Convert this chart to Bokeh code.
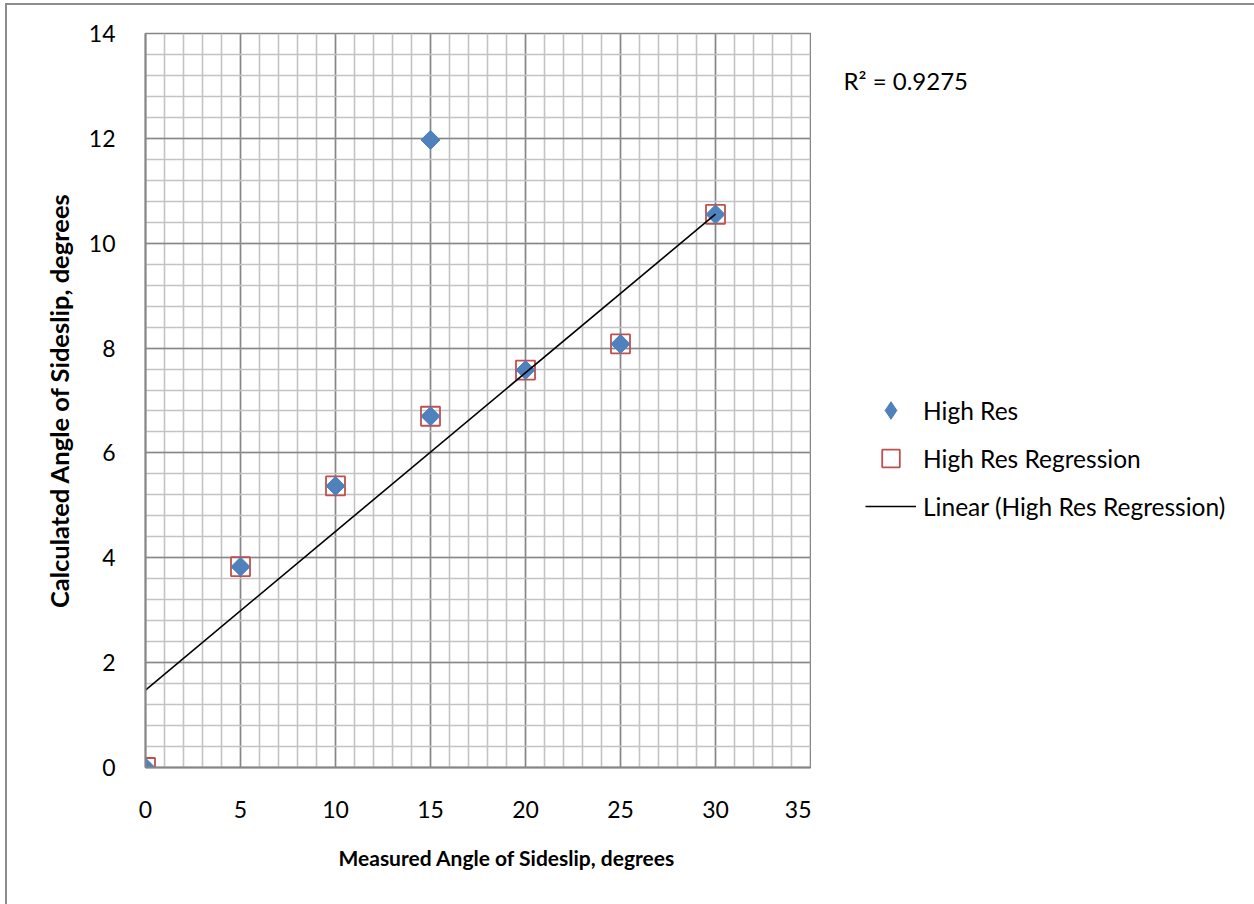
import numpy as np
from bokeh.plotting import figure
from bokeh.layouts import row
from bokeh.models import SingleIntervalTicker, Range1d, Label, Legend, LegendItem, Title
from bokeh.embed import file_html
from bokeh.resources import INLINE

# Data
high_res_x = [0, 5, 10, 15, 15, 20, 25, 30]
high_res_y = [0.0, 3.83, 5.37, 6.70, 11.97, 7.58, 8.08, 10.55]
reg_x = [0, 5, 10, 15, 20, 25, 30]
reg_y = [0.0, 3.83, 5.37, 6.70, 7.58, 8.08, 10.55]
x_label = "Measured Angle of Sideslip, degrees"
y_label = "Calculated Angle of Sideslip, degrees"
legend_labels = ["High Res", "High Res Regression", "Linear (High Res Regression)"]
r2_text = "R\u00b2 = 0.9275"

slope, intercept = np.polyfit(reg_x, reg_y, 1)
fit_x = [min(reg_x), max(reg_x)]
fit_y = [intercept + slope * v for v in fit_x]

FONT = "Lato"
OFF_X, OFF_Y = 7, 5          # chart-area border offset (margin + border)
TOTAL_W = 1254 - OFF_X
H = 904 - OFF_Y
MAIN_W = 811 - OFF_X
FRAME_BOTTOM = 767 - OFF_Y   # frame bottom inside the figure

BLUE = "#4f81bd"
RED = "#c0504d"

p = figure(width=MAIN_W, height=H, output_backend="svg", toolbar_location=None,
           x_range=Range1d(0, 35), y_range=Range1d(0, 14),
           min_border_left=145 - OFF_X, min_border_right=1,
           min_border_top=33 - OFF_Y, min_border_bottom=H - FRAME_BOTTOM)
p.background_fill_color = "white"
p.border_fill_color = "white"
p.outline_line_color = "#868686"
p.outline_line_width = 1.5

p.xaxis.ticker = SingleIntervalTicker(interval=5, num_minor_ticks=5)
p.yaxis.ticker = SingleIntervalTicker(interval=2, num_minor_ticks=5)

for ax in (p.xaxis, p.yaxis):
    ax.axis_line_color = "#868686"
    ax.axis_line_width = 2
    ax.major_tick_line_color = None
    ax.minor_tick_line_color = None
    ax.major_label_text_font = FONT
    ax.major_label_text_font_size = "23px"
    ax.major_label_text_color = "black"
    ax.axis_label_text_font = FONT
    ax.axis_label_text_font_style = "bold"
    ax.axis_label_text_color = "black"

p.yaxis.axis_label = y_label
p.yaxis.axis_label_text_font_size = "25.5px"
p.xaxis.major_label_standoff = 27
p.yaxis.major_label_standoff = 24
p.yaxis.axis_label_standoff = 12

p.add_layout(Title(text=x_label, align="left", offset=193, standoff=44,
                   text_font=FONT, text_font_size="21px", text_font_style="bold",
                   text_color="black"), "below")

for g in (p.xgrid, p.ygrid):
    g.grid_line_color = "#878787"
    g.grid_line_width = 1.5
    g.minor_grid_line_color = "#c3c3c3"
    g.minor_grid_line_width = 1.6

p.scatter(reg_x, reg_y, marker="square", size=19, fill_color=None,
          line_color=RED, line_width=1.8)
p.scatter(high_res_x, high_res_y, marker="square", size=13.5, angle=np.pi / 4,
          fill_color=BLUE, line_color=BLUE, line_width=1)
p.line(fit_x, fit_y, line_color="black", line_width=1.6)

# Side panel holding the R² note and the legend (outside the plot frame).
# In a row its frame is aligned with the main plot's frame.
SIDE_W = TOTAL_W - MAIN_W
p2 = figure(width=SIDE_W, height=H, output_backend="svg", toolbar_location=None,
            x_range=Range1d(1000, 1000 + SIDE_W), y_range=Range1d(1000, 1000 + H),
            min_border_left=0, min_border_right=0, min_border_top=0, min_border_bottom=0)
p2.axis.visible = False
p2.grid.visible = False
p2.outline_line_color = None
p2.background_fill_color = "white"
p2.border_fill_color = "white"

# legend proxies (same series, lying outside this panel's ranges, so not drawn)
l_dia = p2.scatter(high_res_x, high_res_y, marker="diamond",
                   fill_color=BLUE, line_color=BLUE, line_width=1)
l_sq = p2.scatter(reg_x, reg_y, marker="square", fill_color=None,
                  line_color=RED, line_width=1.8)
l_line = p2.line(fit_x, fit_y, line_color="black", line_width=1.6)

r2 = Label(x=32, y=FRAME_BOTTOM - (80 - OFF_Y), x_units="screen", y_units="screen",
           text=r2_text, text_font=FONT, text_font_size="24px", text_color="black",
           text_baseline="middle", text_align="left")
p2.add_layout(r2)

legend = Legend(items=[LegendItem(label=legend_labels[0], renderers=[l_dia]),
                       LegendItem(label=legend_labels[1], renderers=[l_sq]),
                       LegendItem(label=legend_labels[2], renderers=[l_line])],
                location=(54, FRAME_BOTTOM - (528 - OFF_Y)), glyph_width=51, glyph_height=44,
                spacing=4, padding=0, margin=0, label_standoff=7, border_line_color=None,
                background_fill_alpha=0, label_text_font=FONT,
                label_text_font_size="24.5px", label_text_color="black",
                label_text_baseline="middle")
p2.add_layout(legend)

layout = row(p, p2, spacing=0)
layout.styles = {"margin-left": "5px", "margin-top": "3px",
                 "border-left": "2px solid #8c8c8c", "border-top": "2px solid #8c8c8c"}
open("out.html", "w").write(file_html(layout, INLINE))
